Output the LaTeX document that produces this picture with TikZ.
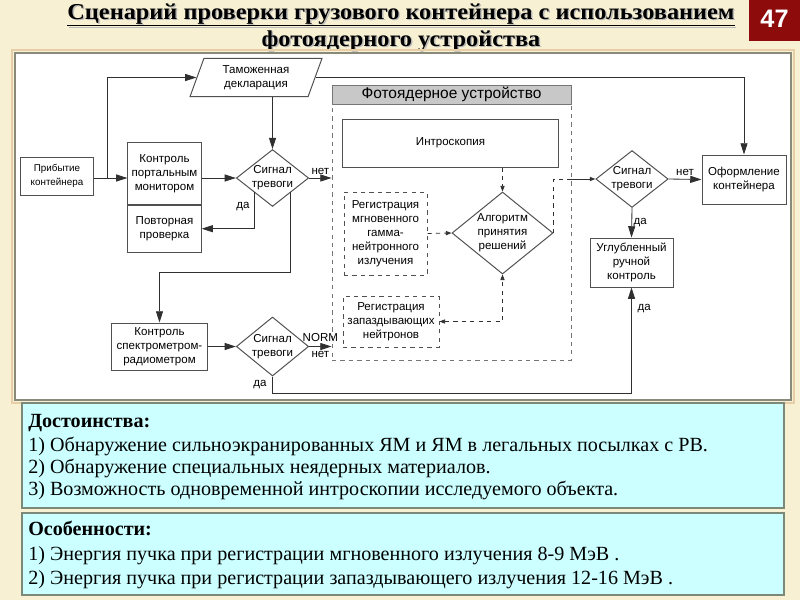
\documentclass[tikz,border=0pt]{standalone}
\usepackage{fontspec}
\setmainfont{Liberation Serif}
\setsansfont{Liberation Sans}
\usepackage{tikz}
\usetikzlibrary{positioning, arrows.meta, shapes.geometric, calc}

\definecolor{cream}{HTML}{F8F0D2}
\definecolor{slidered}{HTML}{8E0B0B}
\definecolor{panelline}{HTML}{8A8A7A}
\definecolor{boxline}{HTML}{505050}
\definecolor{linecol}{HTML}{303030}
\definecolor{framecol}{HTML}{767676}
\definecolor{hdrgray}{HTML}{C8C8C8}
\definecolor{notefill}{HTML}{CCFFFF}
\definecolor{noteline}{HTML}{7C8878}

\newcommand{\diagfont}{\sffamily\fontsize{8.2}{10}\selectfont}
\newcommand{\notefont}{\rmfamily\fontsize{14.3}{16}\selectfont}
\newcommand{\titlefont}{\rmfamily\bfseries\fontsize{19}{21}\selectfont}
\newcommand{\titleline}[1]{\scalebox{0.91}[0.85]{\underline{#1}}}
\newcommand{\shadowtext}[1]{\rlap{\hspace{1pt}\raisebox{-1pt}{\color{gray!55}#1}}#1}

\tikzset{
  block/.style={draw=boxline, fill=white, line width=0.7pt, align=center, font=\diagfont, inner sep=1pt},
  dblock/.style={block, dashed},
  alarm/.style={diamond, draw=boxline, fill=white, line width=0.7pt, align=center, font=\diagfont,
    inner sep=0pt, aspect=1.27, minimum width=1.78cm, minimum height=1.4cm},
  link/.style={draw=linecol, line width=0.6pt, -{Triangle[length=8pt,width=5pt]}},
  dlink/.style={draw=linecol, dashed, line width=0.6pt, -{Triangle[length=4pt,width=3pt]}},
  tag/.style={font=\diagfont, inner sep=1pt},
  note/.style={anchor=base west, font=\notefont, inner sep=0pt},
  notebox/.style={fill=notefill, draw=noteline, line width=1.2pt},
}

\begin{document}
\begin{tikzpicture}[x=0.025cm, y=-0.025cm]
  \useasboundingbox (0,0) rectangle (800,600);
  \fill[cream] (0,0) rectangle (800,600);

  % slide title with shadow
  \node[anchor=base, font=\titlefont, inner sep=0pt] (title1) at (401,19) {\shadowtext{\titleline{Сценарий проверки грузового контейнера с использованием}}};
  \node[anchor=base, font=\titlefont, inner sep=0pt] (title2) at (401,46) {\shadowtext{\titleline{фотоядерного устройства}}};

  % page number
  \fill[slidered] (749,0) rectangle (800,41);
  \node[font=\sffamily\bfseries\fontsize{18}{20}\selectfont, text=white] (pagenum) at (774.5,19) {47};

  % diagram panel
  \draw[draw=cream!70!brown, line width=1.5pt] (12,50) rectangle (794,403);
  \draw[fill=white, draw=panelline, line width=0.8pt] (15,53) rectangle (791,400);

  % photonuclear device frame
  \node[draw=framecol, dashed, line width=0.6pt, minimum width=5.975cm, minimum height=6.875cm, inner sep=0pt] (device) at (451.5,222.5) {};
  \node[fill=hdrgray, draw=framecol, line width=0.6pt, minimum width=5.975cm, minimum height=0.475cm, inner sep=0pt,
    anchor=north, font=\sffamily\fontsize{11}{12}\selectfont] (devhead) at (device.north) {Фотоядерное устройство};

  % blocks
  \node[block, font=\sffamily\fontsize{7}{10}\selectfont, minimum width=1.8cm, minimum height=0.95cm] (arrive) at (57,176) {Прибытие\\контейнера};
  \node[block, minimum width=1.83cm, minimum height=1.53cm] (portal) at (164.5,173.5) {Контроль\\портальным\\монитором};
  \node[block, minimum width=1.83cm, minimum height=1.18cm, below=0pt of portal] (recheck) {Повторная\\проверка};
  \node[trapezium, trapezium left angle=70, trapezium right angle=110, draw=boxline, fill=white, line width=0.7pt,
    align=center, font=\diagfont, inner sep=0pt, minimum width=3.3cm, minimum height=0.875cm] (declar) at (256,77.5) {Таможенная\\декларация};
  \node[alarm] (alarm1) at (272.5,178) {Сигнал\\тревоги};
  \node[block, minimum width=5.375cm, minimum height=1.2cm] (intro) at (450.5,143) {Интроскопия};
  \node[dblock, minimum width=2.075cm, minimum height=2.075cm] (regG) at (385.5,233.5) {Регистрация\\мгновенного\\гамма-\\нейтронного\\излучения};
  \node[alarm, aspect=1.23, minimum width=2.525cm, minimum height=2.05cm] (algo) at (502.5,233) {Алгоритм\\принятия\\решений};
  \node[dblock, minimum width=2.4cm, minimum height=1.275cm] (regN) at (391,321.5) {Регистрация\\запаздывающих\\нейтронов};
  \node[alarm] (alarm2) at (632,179) {Сигнал\\тревоги};
  \node[block, minimum width=2.1cm, minimum height=1.225cm] (finish) at (744,179.5) {Оформление\\контейнера};
  \node[block, minimum width=2.075cm, minimum height=1.225cm] (manual) at (631.5,262.5) {Углубленный\\ручной\\контроль};
  \node[block, minimum width=2.375cm, minimum height=1.175cm] (spectr) at (159.5,346.5) {Контроль\\спектрометром-\\радиометром};
  \node[alarm, minimum height=1.475cm] (alarm3) at (272.5,346.5) {Сигнал\\тревоги};

  % arrival branch
  \coordinate (fork) at (107,178);
  \draw[link] (arrive.east |- alarm1.west) -- (portal.west |- alarm1.west);
  \draw[link] (fork) |- (declar.west);
  \draw[link] (portal.east |- alarm1.west) -- (alarm1.west);
  \draw[link] (declar.east) -| (finish.north);
  \draw[link] (declar.south -| alarm1.north) -- (alarm1.north);

  % first alarm
  \draw[link] (alarm1.east) -- (alarm1.east -| device.west) node[tag, midway, above=1pt] {нет};
  \coordinate (a1yes) at ($(alarm1.west)!0.5!(alarm1.south)$);
  \draw[link] (a1yes) |- (recheck.east) node[tag, pos=0.2, left=2pt] {да};
  \coordinate (a1down) at ($(alarm1.east)!0.5!(alarm1.south)$);
  \draw[link] (a1down) |- ($(spectr.north)+(0,-50)$) -- (spectr.north);

  % spectrometer line
  \draw[link] (spectr.east) -- (alarm3.west);
  \draw[link] (alarm3.east) -- (alarm3.east -| device.west)
    node[tag, midway, above=2pt] {NORM} node[tag, midway, below=2pt] {нет};
  \draw[link] (alarm3.south) -- ++(0,17) node[tag, midway, left=3pt] {да}
    -| (manual.south) node[tag, pos=0.9, right=3pt] {да};

  % inside the device
  \draw[dlink] (intro.south -| algo.north) -- (algo.north);
  \draw[dlink] (regG.east) -- (algo.west);
  \draw[dlink, {Triangle[length=4pt,width=3pt]}-{Triangle[length=4pt,width=3pt]}] (regN.east) -| (algo.south);
  \draw[draw=linecol, dashed, line width=0.6pt] (algo.east) |- (device.east |- alarm2.west);
  \draw[draw=linecol, line width=0.6pt, -{Triangle[length=4pt,width=3pt]}] (device.east |- alarm2.west) -- (alarm2.west);

  % second alarm
  \draw[link] (alarm2.east) -- (finish.west) node[tag, midway, above=1pt] {нет};
  \draw[link] (alarm2.south) -- (manual.north) node[tag, midway, right] {да};

  % notes
  \draw[notebox] (22,403) rectangle (784,508);
  \draw[notebox] (22,513) rectangle (784,595);
  \node[note, font=\notefont\bfseries] (advhead) at (28,427) {Достоинства:};
  \node[note] (adv1) at (28,451) {1) Обнаружение сильноэкранированных ЯМ и ЯМ в легальных посылках с РВ.};
  \node[note] (adv2) at (28,473) {2) Обнаружение специальных неядерных материалов.};
  \node[note] (adv3) at (28,495) {3) Возможность одновременной интроскопии исследуемого объекта.};
  \node[note, font=\notefont\bfseries] (feathead) at (28,535) {Особенности:};
  \node[note] (feat1) at (28,560) {1) Энергия пучка при регистрации мгновенного излучения 8-9 МэВ .};
  \node[note] (feat2) at (28,584) {2) Энергия пучка при регистрации запаздывающего излучения 12-16 МэВ .};
\end{tikzpicture}
\end{document}
